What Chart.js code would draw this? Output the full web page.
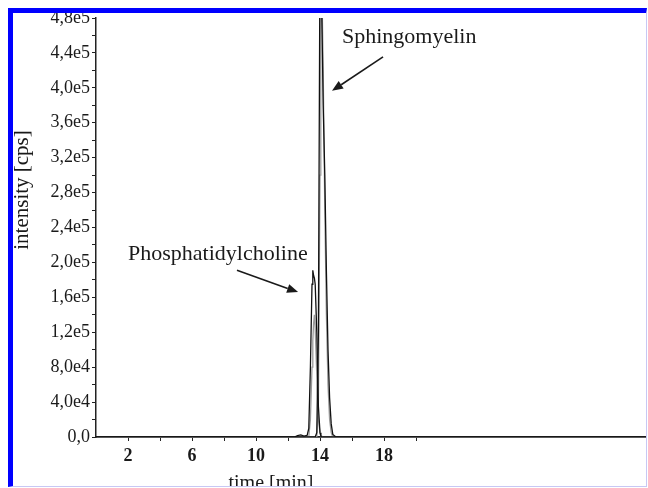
<!DOCTYPE html>
<html>
<head>
<meta charset="utf-8">
<script src="https://cdn.jsdelivr.net/npm/chart.js@4/dist/chart.umd.min.js"></script>
<style>
  html, body { margin: 0; padding: 0; background: #fff; }
  #wrap { position: absolute; left: 0; top: 0; width: 648px; height: 487px; overflow: hidden; }
  #c { position: absolute; left: 0; top: 0; }
  #frame { position: absolute; left: 8px; top: 8px; width: 639px; height: 479px; box-sizing: border-box;
           border-left: 5px solid #0000ff; border-top: 5px solid #0000ff;
           border-right: 1px solid #c8c8f4; border-bottom: 1px solid #c8c8f4; pointer-events: none; }
</style>
</head>
<body>
<div id="wrap"><canvas id="c" width="648" height="488"></canvas></div>
<div id="frame"></div>
<script>
// ---- data ----
const timeMin = [0, 12.4, 12.6, 12.8, 13.0, 13.2, 13.3, 13.4, 13.5, 13.55, 13.6, 13.65, 13.7, 13.8, 13.9, 14.0, 14.05, 14.1, 14.2, 14.3, 14.4, 14.5, 14.6, 14.7, 14.8, 15.0, 34.375];
const sphingoBlack = [0, 0, 0, 0, 0, 0, 0, 0, 0, 0, 0, 0, 0, 5000, 120000, 560000, 600000, 500000, 380000, 300000, 190000, 100000, 45000, 15000, 3000, 0, 0];
const sphingoGray  = [0, 0, 0, 0, 0, 0, 0, 0, 0, 0, 0, 0, 0, 0, 40000, 300000, 520000, 540000, 420000, 260000, 140000, 60000, 20000, 5000, 0, 0, 0];
const pcBlack      = [0, 0, 1500, 2500, 1000, 2000, 10000, 80000, 175000, 191000, 185000, 182000, 175000, 120000, 35000, 5000, 1500, 0, 0, 0, 0, 0, 0, 0, 0, 0, 0];
const pcGray       = [0, 0, 0, 0, 0, 0, 0, 20000, 80000, 110000, 130000, 140000, 125000, 70000, 20000, 5000, 2000, 1000, 0, 0, 0, 0, 0, 0, 0, 0, 0];
const xTickValues = [2, 4, 6, 8, 10, 12, 14, 16, 18, 20];
const xTickLabels = [2, 6, 10, 14, 18];
const yLabelStep = 40000;
const labels = {
  sphingo: { text: 'Sphingomyelin', x: 15.375, y: 451400 },
  pc: { text: 'Phosphatidylcholine', x: 2.0, y: 202300 }
};
const arrows = [
  { from: [17.94, 435400], to: [14.75, 396600] },
  { from: [8.81, 190900], to: [12.63, 166000] }
];

function pts(ys) { return timeMin.map((t, i) => ({ x: t, y: ys[i] })); }

function fmtY(v) {
  v = Math.round(v);
  if (v === 0) return '0,0';
  if (v % yLabelStep !== 0) return '';
  const e = Math.floor(Math.log10(v));
  const m = v / Math.pow(10, e);
  return m.toFixed(1).replace('.', ',') + 'e' + e;
}

const serif = "'Liberation Serif', 'Times New Roman', serif";

const textPlugin = {
  id: 'texts',
  afterDatasetsDraw(chart) {
    const ctx = chart.ctx, xs = chart.scales.x, ys = chart.scales.y;
    ctx.save();
    ctx.fillStyle = '#1a1a1a';
    ctx.font = '22px ' + serif;
    ctx.textBaseline = 'alphabetic';
    ctx.textAlign = 'left';
    for (const k in labels) {
      const l = labels[k];
      ctx.fillText(l.text, xs.getPixelForValue(l.x), ys.getPixelForValue(l.y));
    }
    ctx.strokeStyle = '#1a1a1a';
    ctx.lineWidth = 1.6;
    for (const a of arrows) {
      const x1 = xs.getPixelForValue(a.from[0]), y1 = ys.getPixelForValue(a.from[1]);
      const x2 = xs.getPixelForValue(a.to[0]), y2 = ys.getPixelForValue(a.to[1]);
      const ang = Math.atan2(y2 - y1, x2 - x1);
      const hl = 11, hw = 4.5;
      const bx = x2 - hl * Math.cos(ang), by = y2 - hl * Math.sin(ang);
      ctx.beginPath(); ctx.moveTo(x1, y1); ctx.lineTo(bx, by); ctx.stroke();
      ctx.beginPath();
      ctx.moveTo(x2, y2);
      ctx.lineTo(bx + hw * Math.sin(ang), by - hw * Math.cos(ang));
      ctx.lineTo(bx - hw * Math.sin(ang), by + hw * Math.cos(ang));
      ctx.closePath(); ctx.fill();
    }
    // axis titles
    ctx.font = '20px ' + serif;
    ctx.textAlign = 'center';
    ctx.textBaseline = 'alphabetic';
    ctx.fillText('time [min]', 271, 489);
    ctx.save();
    ctx.translate(22, 190);
    ctx.rotate(-Math.PI / 2);
    ctx.font = '21px ' + serif;
    ctx.textBaseline = 'middle';
    ctx.fillText('intensity [cps]', 0, 0);
    ctx.restore();
    ctx.restore();
  }
};

new Chart(document.getElementById('c'), {
  type: 'line',
  data: {
    datasets: [
      { data: pts(sphingoBlack), borderColor: '#111', borderWidth: 1.3 },
      { data: pts(pcBlack), borderColor: '#111', borderWidth: 1.3 },
      { data: pts(sphingoGray), borderColor: '#9a9a9a', borderWidth: 1.3 },
      { data: pts(pcGray), borderColor: '#9a9a9a', borderWidth: 1.3 }
    ]
  },
  options: {
    responsive: false,
    animation: false,
    parsing: true,
    elements: { point: { radius: 0 }, line: { tension: 0 } },
    layout: { padding: { top: 18, right: 2, left: 0, bottom: 0 } },
    plugins: { legend: { display: false }, tooltip: { enabled: false } },
    scales: {
      x: {
        type: 'linear', min: 0, max: 34.375,
        afterFit(s) { s.height = 51; },
        afterBuildTicks(s) { s.ticks = xTickValues.map(v => ({ value: v })); },
        grid: { display: true, drawOnChartArea: false, drawTicks: true, tickLength: 4, color: '#222', lineWidth: 1 },
        border: { display: true, color: '#222', width: 1.8 },
        ticks: {
          autoSkip: false, maxRotation: 0, padding: 5, color: '#1a1a1a',
          font: { family: serif, size: 18, weight: 'bold' },
          callback: v => xTickLabels.includes(v) ? String(v) : ''
        }
      },
      y: {
        type: 'linear', min: 0, max: 480000,
        afterFit(s) { s.width = 96; },
        grid: { display: true, drawOnChartArea: false, drawTicks: true, tickLength: 4, color: '#222', lineWidth: 1 },
        border: { display: true, color: '#222', width: 1.5 },
        ticks: {
          stepSize: 20000, autoSkip: false, maxTicksLimit: 100, padding: 2, color: '#1a1a1a',
          font: { family: serif, size: 18 },
          callback: v => fmtY(v)
        }
      }
    }
  },
  plugins: [textPlugin]
});
</script>
</body>
</html>
